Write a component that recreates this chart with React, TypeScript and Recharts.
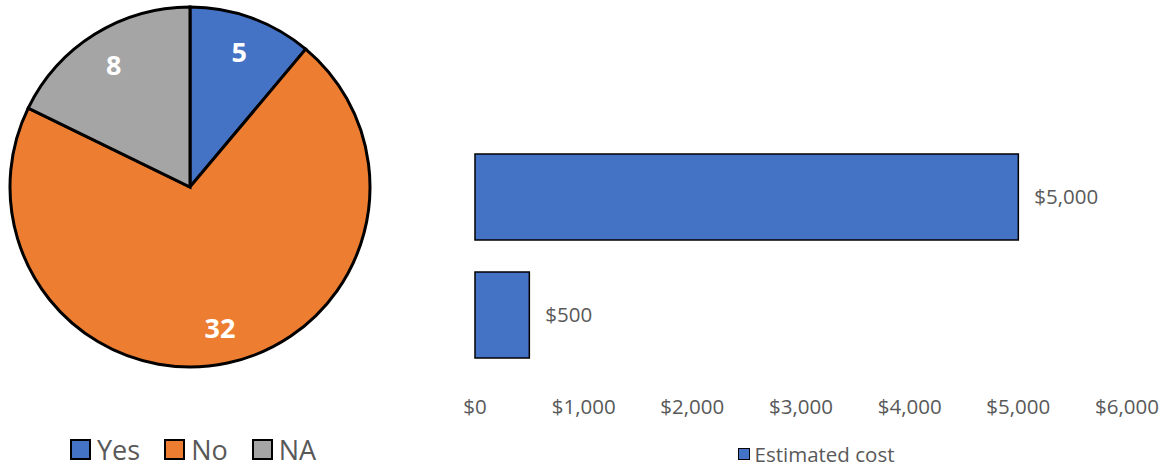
import React from "react";
import { PieChart, Pie, Cell, BarChart, Bar, XAxis, YAxis, Legend, LabelList } from "recharts";

const answerNames = ["Yes", "No", "NA"];
const answerCounts = [5, 32, 8];
const answerColors = ["#4472C4", "#ED7D31", "#A5A5A5"];

const costItems = ["Option A", "Option B"];
const costValues = [5000, 500];
const costTicks = [0, 1000, 2000, 3000, 4000, 5000, 6000];

const pieData = answerNames.map((n, i) => ({ name: n, value: answerCounts[i] }));
const barData = costItems.map((n, i) => ({ name: n, cost: costValues[i] }));

const FONT = "'Open Sans', 'Noto Sans', sans-serif";
const money = (v: number) => "$" + v.toLocaleString("en-US");

const RAD = Math.PI / 180;
const pieLabel = (p: any) => {
  const r = p.outerRadius * 0.8;
  const x = p.cx + r * Math.cos(-p.midAngle * RAD);
  const y = p.cy + r * Math.sin(-p.midAngle * RAD);
  return (
    <text x={x} y={y} fill="#fff" fontSize={27} fontWeight="bold" textAnchor="middle" dominantBaseline="central" fontFamily={FONT}>
      {p.value}
    </text>
  );
};

const pieLegend = () => (
  <div style={{ display: "flex", gap: 24, fontFamily: FONT, fontSize: 27, color: "#595959", paddingLeft: 70 }}>
    {answerNames.map((n, i) => (
      <div key={n} style={{ display: "flex", alignItems: "center" }}>
        <span style={{ width: 17, height: 17, background: answerColors[i], border: "2.5px solid #000", marginRight: 6, display: "inline-block" }} />
        {n}
      </div>
    ))}
  </div>
);

const barLegend = () => (
  <div style={{ display: "flex", justifyContent: "center", fontFamily: FONT, fontSize: 20.5, color: "#595959", paddingLeft: 30 }}>
    <div style={{ display: "flex", alignItems: "center" }}>
      <span style={{ width: 10, height: 10, background: "#4472C4", border: "1.5px solid #000", marginRight: 5, display: "inline-block" }} />
      Estimated cost
    </div>
  </div>
);

export default function App() {
  return (
    <div style={{ position: "absolute", left: 0, top: 0, width: 1167, height: 468, background: "#fff", fontFamily: FONT }}>
      <div style={{ position: "absolute", left: 0, top: 0 }}>
        <PieChart width={420} height={468} margin={{ top: 0, right: 0, bottom: 0, left: 0 }}>
          <Pie
            data={pieData}
            dataKey="value"
            nameKey="name"
            cx={190}
            cy={187}
            outerRadius={180}
            startAngle={90}
            endAngle={-270}
            stroke="#000"
            strokeWidth={3}
            label={pieLabel}
            labelLine={false}
            isAnimationActive={false}
          >
            {pieData.map((d, i) => (
              <Cell key={d.name} fill={answerColors[i]} />
            ))}
          </Pie>
          <Legend content={pieLegend} verticalAlign="bottom" align="left" wrapperStyle={{ bottom: 0, left: 0 }} />
        </PieChart>
      </div>
      <div style={{ position: "absolute", left: 440, top: 0 }}>
        <BarChart width={727} height={468} data={barData} layout="vertical" margin={{ top: 138, right: 40, left: 35, bottom: 6 }} barCategoryGap={16}>
          <XAxis
            type="number"
            domain={[0, 6000]}
            ticks={costTicks}
            tickFormatter={money}
            axisLine={false}
            tickLine={false}
            tickMargin={19}
            height={60}
            tick={{ fill: "#595959", fontSize: 20.5, fontFamily: FONT }}
          />
          <YAxis type="category" dataKey="name" hide />
          <Bar dataKey="cost" fill="#4472C4" stroke="#000" strokeWidth={1.5} isAnimationActive={false}>
            <LabelList dataKey="cost" position="right" offset={16} formatter={(v: any) => money(Number(v))} fill="#595959" fontSize={20.5} fontFamily={FONT} />
          </Bar>
          <Legend content={barLegend} verticalAlign="bottom" wrapperStyle={{ bottom: 0 }} />
        </BarChart>
      </div>
    </div>
  );
}
